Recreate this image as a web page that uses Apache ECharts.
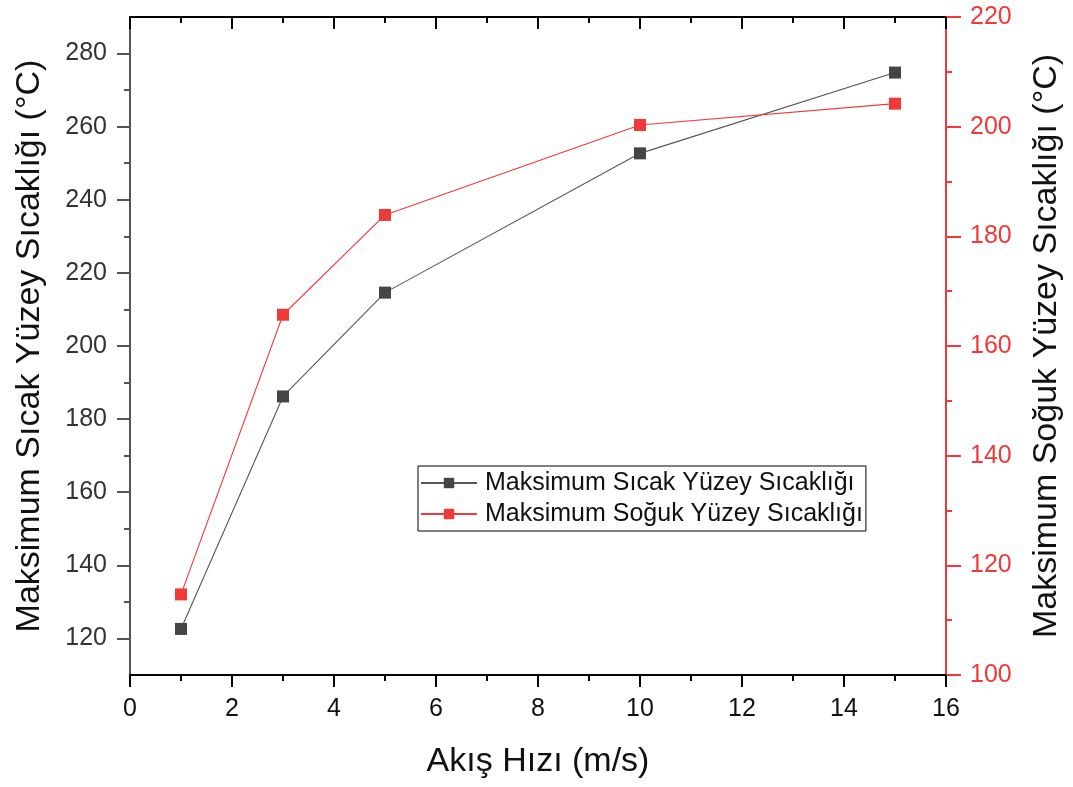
<!DOCTYPE html>
<html>
<head>
<meta charset="utf-8">
<script src="https://cdn.jsdelivr.net/npm/echarts@6/dist/echarts.min.js"></script>
<style>
html,body{margin:0;padding:0;background:#fff;}
#chart{width:1073px;height:787px;}
</style>
</head>
<body>
<div id="chart"></div>
<script>
const xValues = [1, 3, 5, 10, 15];
const hotValues = [122.6, 186.2, 214.6, 252.7, 274.8];
const coldValues = [114.7, 165.7, 183.9, 200.3, 204.2];
const leftTicks = [120, 140, 160, 180, 200, 220, 240, 260, 280];
const leftMinorTicks = [130, 150, 170, 190, 210, 230, 250, 270];
const hotName = 'Maksimum Sıcak Yüzey Sıcaklığı';
const coldName = 'Maksimum Soğuk Yüzey Sıcaklığı';
const xTitle = 'Akış Hızı (m/s)';
const leftTitle = 'Maksimum Sıcak Yüzey Sıcaklığı (°C)';
const rightTitle = 'Maksimum Soğuk Yüzey Sıcaklığı (°C)';

const FONT = "'Liberation Sans', Arial, sans-serif";
const RED = '#F03A3A';
const DARK = '#454545';
const GRID = {left: 130, right: 127, top: 17, bottom: 112, containLabel: false};

const chart = echarts.init(document.getElementById('chart'), null, {renderer: 'canvas'});
chart.setOption({
  animation: false,
  backgroundColor: '#fff',
  textStyle: {fontFamily: FONT},
  grid: [Object.assign({}, GRID), Object.assign({}, GRID)],
  legend: {
    orient: 'vertical',
    left: 418, top: 466,
    backgroundColor: '#fff',
    borderColor: '#000', borderWidth: 1,
    padding: [3, 3, 3, 2],
    itemGap: 3,
    itemWidth: 56, itemHeight: 13,
    textStyle: {fontFamily: FONT, fontSize: 25, color: '#111', lineHeight: 28, padding: [0, 0, 0, 3]},
    data: [hotName, coldName]
  },
  xAxis: [{
    gridIndex: 0, type: 'value', position: 'bottom', min: 0, max: 16, interval: 2,
    name: xTitle, nameLocation: 'middle', nameGap: 70,
    nameTextStyle: {fontFamily: FONT, fontSize: 34, color: '#111'},
    axisLine: {show: true, onZero: false, lineStyle: {color: '#000', width: 2}},
    axisTick: {show: true, inside: false, length: 12, lineStyle: {color: '#000', width: 2}},
    minorTick: {show: true, splitNumber: 2, length: 6, lineStyle: {color: '#000', width: 2}},
    axisLabel: {margin: 22, fontSize: 25, color: '#111', fontFamily: FONT},
    splitLine: {show: false}
  }, {
    gridIndex: 0, type: 'value', position: 'top', min: 0, max: 16, interval: 2,
    axisLine: {show: true, onZero: false, lineStyle: {color: '#000', width: 2}},
    axisTick: {show: true, inside: true, length: 12, lineStyle: {color: '#000', width: 2}},
    minorTick: {show: true, splitNumber: 2, length: 6, lineStyle: {color: '#000', width: 2}},
    axisLabel: {show: false},
    splitLine: {show: false}
  }, {
    gridIndex: 1, type: 'value', position: 'bottom', min: 0, max: 16, show: false
  }],
  yAxis: [{
    gridIndex: 0, type: 'value', position: 'left', min: 110, max: 290,
    name: leftTitle, nameLocation: 'middle', nameGap: 83, nameRotate: 90,
    nameTextStyle: {fontFamily: FONT, fontSize: 34, color: '#111'},
    axisLine: {show: true, onZero: false, lineStyle: {color: '#555', width: 2}},
    axisTick: {show: true, inside: false, length: 13, customValues: leftTicks, lineStyle: {color: '#555', width: 2}},
    axisLabel: {margin: 23, fontSize: 25, color: '#333', fontFamily: FONT, customValues: leftTicks},
    splitLine: {show: false}
  }, {
    gridIndex: 0, type: 'value', position: 'right', min: 100, max: 220, interval: 20,
    name: rightTitle, nameLocation: 'middle', nameGap: 84, nameRotate: 90,
    nameTextStyle: {fontFamily: FONT, fontSize: 34, color: '#111'},
    axisLine: {show: true, onZero: false, lineStyle: {color: RED, width: 2}},
    axisTick: {show: true, inside: false, length: 15, lineStyle: {color: RED, width: 2}},
    minorTick: {show: true, splitNumber: 2, length: 6, lineStyle: {color: RED, width: 2}},
    axisLabel: {margin: 24, fontSize: 25, color: RED, fontFamily: FONT},
    splitLine: {show: false}
  }, {
    gridIndex: 1, type: 'value', position: 'left', min: 110, max: 290,
    axisLine: {show: false, onZero: false},
    axisTick: {show: true, inside: false, length: 6, customValues: leftMinorTicks, lineStyle: {color: '#555', width: 2}},
    axisLabel: {show: false},
    splitLine: {show: false}
  }],
  series: [{
    name: hotName, type: 'line', xAxisIndex: 0, yAxisIndex: 0,
    data: xValues.map((x, i) => [x, hotValues[i]]),
    symbol: 'rect', symbolSize: 12,
    itemStyle: {color: DARK},
    lineStyle: {color: '#555', width: 1.1},
    z: 3
  }, {
    name: coldName, type: 'line', xAxisIndex: 0, yAxisIndex: 1,
    data: xValues.map((x, i) => [x, coldValues[i]]),
    symbol: 'rect', symbolSize: 12,
    itemStyle: {color: RED},
    lineStyle: {color: RED, width: 1.1},
    z: 3
  }]
});
</script>
</body>
</html>
